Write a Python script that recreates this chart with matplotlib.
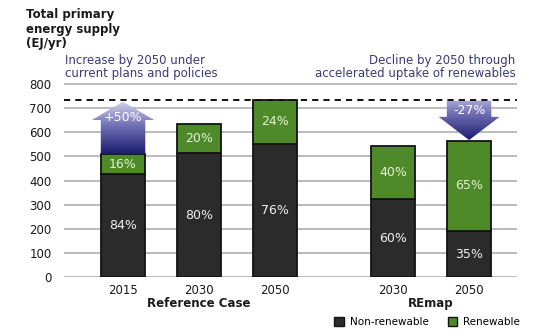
import numpy as np
import matplotlib
matplotlib.use('Agg')
import matplotlib.pyplot as plt
from matplotlib.patches import Polygon, Patch
from matplotlib.colors import LinearSegmentedColormap
import matplotlib.transforms as mtransforms

# ----- data -----
years = ['2015', '2030', '2050', '2030', '2050']
groups = ['Reference Case', 'REmap']
x_pos = [0, 1, 2, 3.55, 4.55]
non_renewable = [427, 513, 553, 323, 192]
renewable = [83, 120, 180, 221, 373]
non_renewable_share = ['84%', '80%', '76%', '60%', '35%']
renewable_share = ['16%', '20%', '24%', '40%', '65%']
change_labels = ['+50%', '-27%']
y_ticks = [0, 100, 200, 300, 400, 500, 600, 700, 800]

DARK = '#2b2b2b'
GREEN = '#4e8a2a'
EDGE = '#121212'
NAVY_TEXT = '#3a3a78'

plt.rcParams['font.family'] = ['DejaVu Sans']

fig = plt.figure(figsize=(5.5, 3.36), dpi=100)
ax = fig.add_axes([0.1164, 0.1747, 0.8236, 0.5796])

totals = [a + b for a, b in zip(non_renewable, renewable)]
bar_w = 0.585

for y in y_ticks:
    ax.axhline(y, color='#a8a8a8', lw=1.1, zorder=0)

ax.bar(x_pos, non_renewable, width=bar_w, color=DARK, edgecolor=EDGE, lw=1.3, zorder=2)
ax.bar(x_pos, renewable, bottom=non_renewable, width=bar_w, color=GREEN,
       edgecolor=EDGE, lw=1.3, zorder=2)

# share labels in the middle of each segment
for x, nr, r, s1, s2 in zip(x_pos, non_renewable, renewable,
                            non_renewable_share, renewable_share):
    ax.text(x, nr / 2, s1, ha='center', va='center', color='#f0f0f0', fontsize=9, zorder=5)
    ax.text(x, nr + r / 2, s2, ha='center', va='center', color='#e4f2d2', fontsize=9, zorder=5)

# dashed reference level = Reference Case 2050 total
ref_level = totals[2]
ax.axhline(ref_level, color='#111111', lw=1.4, ls=(0, (3.2, 2.6)), zorder=4)

arrow_cmap = LinearSegmentedColormap.from_list('arrow', ['#1c1c70', '#6a6ab0', '#d2d2ec'])


def gradient_arrow(x, y_from, y_to, label, label_y, half_shaft, half_head, head_len, top=1.0):
    step = np.sign(y_to - y_from)
    base = y_to - step * head_len
    verts = [(x - half_shaft, y_from), (x - half_shaft, base), (x - half_head, base),
             (x, y_to), (x + half_head, base), (x + half_shaft, base), (x + half_shaft, y_from)]
    poly = Polygon(verts, closed=True, facecolor='none', edgecolor='none')
    ax.add_patch(poly)
    grad = np.linspace(0, top, 256).reshape(-1, 1)
    lo, hi = min(y_from, y_to), max(y_from, y_to)
    im = ax.imshow(grad, extent=[x - half_head, x + half_head, lo, hi], origin='lower',
                   cmap=arrow_cmap, vmin=0, vmax=1, aspect='auto', zorder=3)
    im.set_clip_path(poly)
    ax.text(x, label_y, label, ha='center', va='center', color='white', fontsize=9, zorder=5)


gradient_arrow(x_pos[0], totals[0], ref_level - 6, change_labels[0], 660,
               bar_w / 2, 0.41, 76)
gradient_arrow(x_pos[4], ref_level - 2, totals[4] + 3, change_labels[1], 690,
               bar_w / 2, 0.40, 96, top=0.8)

ax.set_xlim(-0.776, 5.18)
ax.set_ylim(0, 806)
ax.set_yticks(y_ticks)
ax.set_xticks(x_pos, years)
ax.tick_params(axis='y', length=0, pad=9, labelsize=8.5, labelcolor='#1a1a1a')
ax.tick_params(axis='x', length=0, pad=5, labelsize=8.5, labelcolor='#1a1a1a')
for s in ax.spines.values():
    s.set_visible(False)

# group names under the years
blend = mtransforms.blended_transform_factory(ax.transData, fig.transFigure)
ax.text(np.mean(x_pos[:3]), 0.098, groups[0], transform=blend, ha='center', va='center',
        fontsize=8.5, fontweight='bold', color='#1a1a1a')
ax.text(np.mean(x_pos[3:]), 0.098, groups[1], transform=blend, ha='center', va='center',
        fontsize=8.5, fontweight='bold', color='#1a1a1a')

fig.text(0.047, 0.975, 'Total primary\nenergy supply\n(EJ/yr)', ha='left', va='top',
         fontsize=8.5, fontweight='bold', color='#1a1a1a', linespacing=1.15)
fig.text(0.118, 0.838, 'Increase by 2050 under\ncurrent plans and policies', ha='left',
         va='top', fontsize=8.5, color=NAVY_TEXT, linespacing=1.0)
fig.text(0.937, 0.838, 'Decline by 2050 through\naccelerated uptake of renewables',
         ha='right', va='top', multialignment='right', fontsize=8.5, color=NAVY_TEXT,
         linespacing=1.0)

handles = [Patch(facecolor=DARK, edgecolor=EDGE, label='Non-renewable'),
           Patch(facecolor=GREEN, edgecolor=EDGE, label='Renewable')]
fig.legend(handles=handles, loc='center', bbox_to_anchor=(0.777, 0.042), ncol=2,
           frameon=False, fontsize=7.5, handlelength=0.9, handleheight=0.9,
           columnspacing=1.8, handletextpad=0.6)

fig.savefig('out.png', dpi=100)
